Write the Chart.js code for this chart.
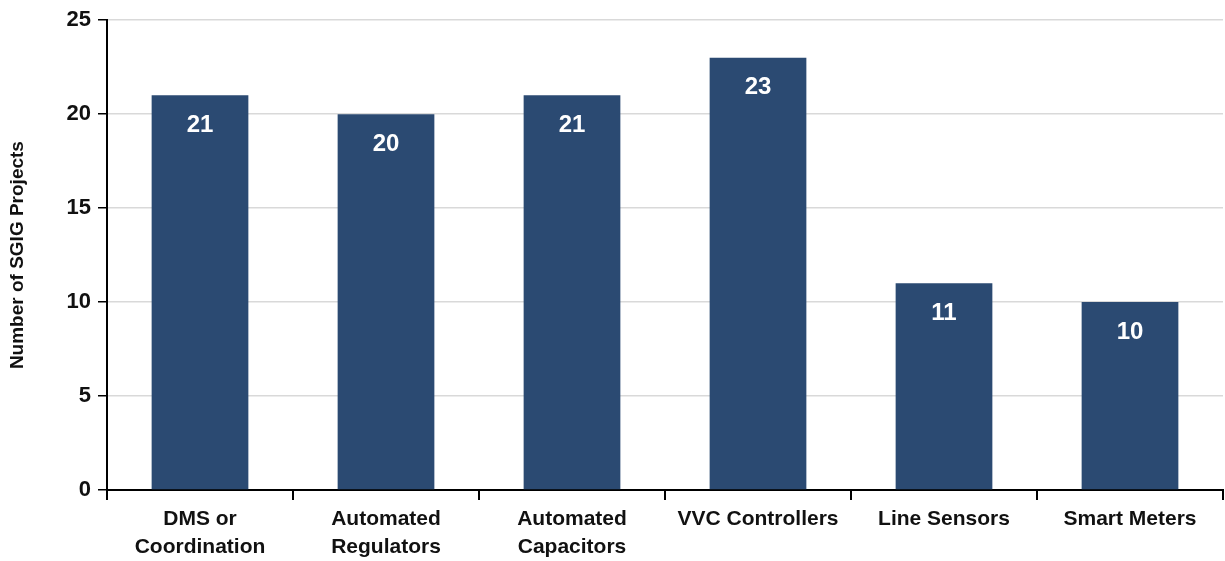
<!DOCTYPE html>
<html>
<head>
<meta charset="utf-8">
<script src="https://cdn.jsdelivr.net/npm/chart.js@4"></script>
<style>
    html, body { margin: 0; padding: 0; background: #fff; }
    #wrap { width: 1225px; height: 561px; }
</style>
</head>
<body>
<div id="wrap"><canvas id="projectsChart" width="1225" height="561"></canvas></div>
<script>
const categories = [
    ['DMS or', 'Coordination'],
    ['Automated', 'Regulators'],
    ['Automated', 'Capacitors'],
    'VVC Controllers',
    'Line Sensors',
    'Smart Meters'
];
const projectCounts = [21, 20, 21, 23, 11, 10];
const yTicks = [0, 5, 10, 15, 20, 25];

const BAR_COLOR = '#2B4A72';

// white value labels inside each bar, near its top
const barValueLabels = {
    id: 'barValueLabels',
    afterDatasetsDraw(chart) {
        const ctx = chart.ctx;
        const meta = chart.getDatasetMeta(0);
        ctx.save();
        ctx.fillStyle = '#ffffff';
        ctx.font = 'bold 24px "Liberation Sans", Arial, sans-serif';
        ctx.textAlign = 'center';
        ctx.textBaseline = 'middle';
        meta.data.forEach((bar, i) => {
            ctx.fillText(String(projectCounts[i]), bar.x, bar.y + 30);
        });
        ctx.restore();
    }
};

function renderChart() {
    const ctx = document.getElementById('projectsChart').getContext('2d');

    new Chart(ctx, {
        type: 'bar',
        data: {
            labels: categories,
            datasets: [{
                data: projectCounts,
                backgroundColor: BAR_COLOR,
                borderWidth: 0,
                barPercentage: 0.52,
                categoryPercentage: 1.0
            }]
        },
        options: {
            responsive: false,
            animation: false,
            layout: { padding: { top: 20, right: 2, left: 0, bottom: 0 } },
            plugins: {
                legend: { display: false },
                tooltip: { enabled: false }
            },
            scales: {
                x: {
                    grid: {
                        display: true,
                        drawOnChartArea: false,
                        drawTicks: true,
                        tickLength: 10,
                        color: '#000',
                        lineWidth: 2
                    },
                    border: { display: true, color: '#000', width: 2 },
                    ticks: {
                        color: '#111',
                        padding: 6,
                        maxRotation: 0,
                        autoSkip: false,
                        font: { family: '"Liberation Sans Narrow", "Arial Narrow", Arial, sans-serif', size: 21, weight: 'bold', lineHeight: 1.3 }
                    },
                    afterFit(scale) { scale.height = 71; }
                },
                y: {
                    min: 0,
                    max: 25,
                    afterBuildTicks(scale) {
                        scale.ticks = yTicks.map(v => ({ value: v }));
                    },
                    grid: {
                        color: '#d9d9d9',
                        lineWidth: 1.5,
                        tickColor: '#000',
                        tickLength: 9,
                        drawTicks: true
                    },
                    border: { display: true, color: '#000', width: 2 },
                    ticks: {
                        color: '#111',
                        padding: 7,
                        font: { family: '"Liberation Sans", Arial, sans-serif', size: 22, weight: 'bold' }
                    },
                    title: {
                        display: true,
                        text: 'Number of SGIG Projects',
                        color: '#111',
                        padding: { top: 6, bottom: 0 },
                        font: { family: '"Liberation Sans", Arial, sans-serif', size: 19, weight: 'bold' }
                    },
                    afterFit(scale) { scale.width = 107; }
                }
            }
        },
        plugins: [barValueLabels]
    });
}

document.addEventListener('DOMContentLoaded', renderChart);
</script>
</body>
</html>
